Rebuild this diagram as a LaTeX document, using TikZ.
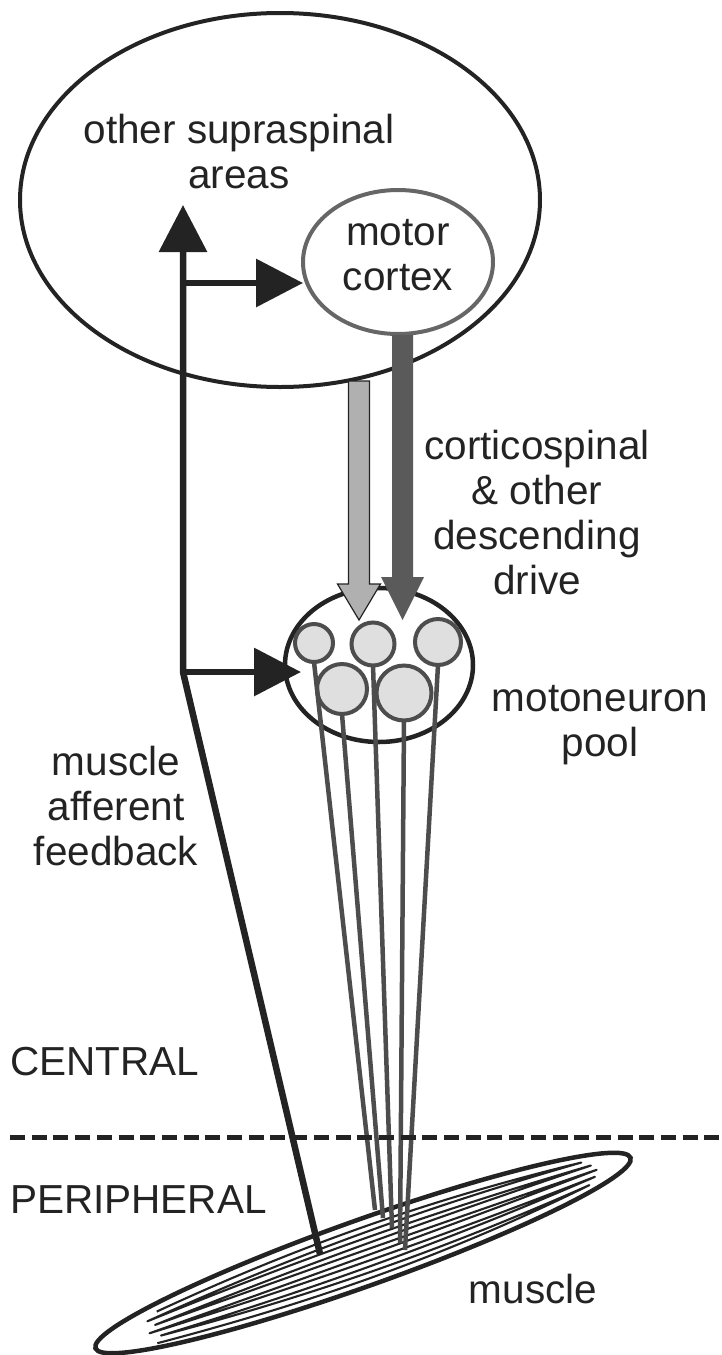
\documentclass[tikz,border=0pt]{standalone}
\usepackage{fontspec}
\setmainfont{Liberation Sans}
\usetikzlibrary{positioning, calc, shapes.geometric, arrows.meta}

\definecolor{ink}{HTML}{232323}
\definecolor{axongray}{HTML}{4D4D4D}
\definecolor{cortexgray}{HTML}{666666}
\definecolor{drivedark}{HTML}{5A5A5A}
\definecolor{drivelight}{HTML}{B0B0B0}
\definecolor{somafill}{HTML}{DFDFDF}

\begin{document}
\begin{tikzpicture}[x=1pt, y=-1pt,
    lbl/.style={inner sep=0pt, align=center, text=ink,
      font=\fontsize{40.5}{45}\selectfont,
      execute at begin node=\strut, execute at end node=\strut},
    region/.style={ellipse, draw=ink, line width=4pt, inner sep=0pt, outer sep=0pt},
    soma/.style={circle, draw=axongray, fill=somafill, line width=4pt, inner sep=0pt, outer sep=0pt},
    axon/.style={draw=axongray, line width=4.5pt},
    feedback/.style={draw=ink, line width=6.5pt, -{Triangle[width=47pt, length=47pt]}},
    fibre/.style={draw=ink, line width=2.1pt, line join=round}]

\useasboundingbox (0,0) rectangle (721,1355);

% brain
\node[region, minimum width=520, minimum height=374] (supra) at (280,200) {};
\node[lbl] (supralbl) at (239,158) {other supraspinal\\areas};
\node[region, lbl, draw=cortexgray, fill=white, minimum width=190, minimum height=144] (mc) at (398,262) {motor\\cortex};

% spinal cord
\node[region, line width=4.5pt, minimum width=188, minimum height=154] (pool) at (379,665) {};
\node[lbl] (poollbl) at (600,727.5) {motoneuron\\pool};
\node[soma, minimum size=38] (mn1) at (314,643) {};
\node[soma, minimum size=43] (mn2) at (373,644) {};
\node[soma, minimum size=46] (mn3) at (438,642) {};
\node[soma, minimum size=50] (mn4) at (342,689) {};
\node[soma, minimum size=55] (mn5) at (404,693) {};

% muscle
\begin{scope}[shift={(363,1253)}, rotate=19.6]
  \draw[ink, line width=4.5pt, fill=white] (0,0) ellipse [x radius=284, y radius=33];
  \draw[fibre] (-224,16) .. controls (-60,30) and (80,30) .. (236,12)
    .. controls (80,23.5) and (-60,23.5) .. (-218,10)
    .. controls (-60,17.1) and (80,17.1) .. (244,6)
    .. controls (80,10.6) and (-60,10.6) .. (-228,4)
    .. controls (-60,4.1) and (80,4.1) .. (248,0)
    .. controls (80,-2.3) and (-60,-2.3) .. (-220,-2)
    .. controls (-60,-8.8) and (80,-8.8) .. (244,-6)
    .. controls (80,-15.3) and (-60,-15.3) .. (-226,-8)
    .. controls (-60,-21.7) and (80,-21.7) .. (236,-12)
    .. controls (80,-28.2) and (-60,-28.2) .. (-214,-14);
\end{scope}
\node[lbl, anchor=base] (musclelbl) at (533,1303) {muscle};

% motor axons
\coordinate (t1) at (375,1210);
\coordinate (t2) at (392,1228);
\coordinate (t3) at (405,1250);
\coordinate (t4) at (383,1218);
\coordinate (t5) at (400,1243);
\foreach \n in {1,...,5}
  \draw[axon] (mn\n.south) -- (t\n);

% descending drive
\coordinate (dk1) at (402.5,335);
\coordinate (dk2) at (402.5,620);
\fill[drivedark] ($(dk1)+(-10.5,0)$) -- ($(dk1)+(10.5,0)$) -- ($(dk2)+(10.5,-43)$)
  -- ($(dk2)+(21.5,-43)$) -- (dk2) -- ($(dk2)+(-21.5,-43)$) -- ($(dk2)+(-10.5,-43)$) -- cycle;
\coordinate (lt1) at (359,381);
\coordinate (lt2) at (359,620);
\filldraw[fill=drivelight, draw=ink, line width=1.2pt] ($(lt1)+(-10.5,0)$) -- ($(lt1)+(10.5,0)$)
  -- ($(lt2)+(10.5,-36)$) -- ($(lt2)+(21.5,-36)$) -- (lt2) -- ($(lt2)+(-21.5,-36)$)
  -- ($(lt2)+(-10.5,-36)$) -- cycle;
\node[lbl] (drivelbl) at (537,519.5) {corticospinal\\ \& other\\ descending\\ drive};

% afferent feedback
\coordinate (fbfoot) at (320,1254);
\coordinate (jp) at (183,672);
\coordinate (jc) at (183,283);
\coordinate (fbtip) at (183,205);
\draw[feedback] (fbfoot) -- (jp) -- (fbtip);
\draw[feedback] (jc) -- (jc -| mc.west);
\draw[feedback, shorten >=-16pt] (jp) -- (jp -| pool.west);
\node[lbl] (fblbl) at (116,812.5) {muscle\\afferent\\feedback};

% central / peripheral
\coordinate (cutl) at (10,1137);
\coordinate (cutr) at (721,1137);
\draw[ink, line width=5pt, dash pattern=on 15pt off 6.7pt] (cutl) -- (cutr);
\node[lbl, anchor=base west] (central) at (10,1075) {CENTRAL};
\node[lbl, anchor=base west] (peripheral) at (10,1213) {PERIPHERAL};
\end{tikzpicture}
\end{document}
